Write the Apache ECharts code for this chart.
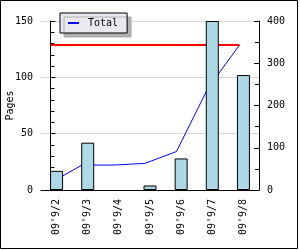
<!DOCTYPE html>
<html>
<head>
<meta charset="utf-8">
<script src="https://cdn.jsdelivr.net/npm/echarts@6/dist/echarts.min.js"></script>
<style>
  html, body { margin: 0; padding: 0; background: #fff; }
  #chart { width: 300px; height: 250px; }
</style>
</head>
<body>
<div id="chart"></div>
<script>
// 日付ごとのページ数
const categories = ["09'9/2", "09'9/3", "09'9/4", "09'9/5", "09'9/6", "09'9/7", "09'9/8"];
const pages = [17, 42, 0, 4, 28, 150, 102];
// 累計 (右軸)
const total = [17, 59, 59, 63, 91, 241, 343];
// 赤い線 (右軸)
const target = [343, 343, 343, 343, 343, 343, 343];
const leftTicks = [0, 50, 100, 150];
const rightTicks = [0, 100, 200, 300, 400];

const font = 'DejaVu Sans Mono';

let myChart = echarts.init(document.getElementById('chart'));

let option = {
    animation: false,
    backgroundColor: '#fff',
    textStyle: { fontFamily: font },
    graphic: [{
        type: 'rect',
        shape: { x: 0.5, y: 0.5, width: 297, height: 248 },
        style: { fill: 'none', stroke: '#000', lineWidth: 1 },
        z: 100
    }],
    legend: {
        data: ['Total'],
        left: 60,
        top: 13,
        padding: [5, 9, 5, 8],
        backgroundColor: '#ebe8ef',
        borderColor: '#000',
        borderWidth: 1,
        shadowColor: '#b0b0b0',
        shadowOffsetX: 4,
        shadowOffsetY: 4,
        shadowBlur: 0,
        icon: 'rect',
        itemWidth: 11,
        itemHeight: 2,
        textStyle: { fontFamily: font, fontSize: 10, color: '#000', padding: [0, 0, 0, 4] }
    },
    grid: { left: 41, right: 41, top: 21, bottom: 60, outerBoundsMode: 'none', containLabel: false },
    xAxis: [{
        type: 'category',
        data: categories,
        boundaryGap: true,
        axisLine: { lineStyle: { color: '#000', width: 1 } },
        axisTick: { inside: true, length: 5, lineStyle: { color: '#000' } },
        axisLabel: { rotate: 90, margin: 9, fontFamily: font, fontSize: 10, color: '#000' }
    }, {
        // 線グラフ用の非表示の軸
        type: 'value',
        show: false,
        min: -0.3,
        max: 6.62
    }],
    yAxis: [{
        type: 'value',
        name: 'Pages',
        nameLocation: 'middle',
        nameGap: 26,
        nameMoveOverlap: false,
        nameTextStyle: { fontFamily: font, fontSize: 10, color: '#000' },
        min: leftTicks[0],
        max: leftTicks[leftTicks.length - 1],
        interval: 50,
        axisLine: { show: true, lineStyle: { color: '#000' } },
        axisTick: { show: true, inside: true, length: 5, lineStyle: { color: '#000' } },
        minorTick: { show: true, splitNumber: 5, length: 4, lineStyle: { color: '#000' } },
        splitLine: { show: true, lineStyle: { color: '#d8d8d8' } },
        axisLabel: { margin: 8, fontFamily: font, fontSize: 10, color: '#000' }
    }, {
        type: 'value',
        min: rightTicks[0],
        max: rightTicks[rightTicks.length - 1],
        interval: 100,
        position: 'right',
        axisLine: { show: true, lineStyle: { color: '#000' } },
        axisTick: { show: true, inside: true, length: 5, lineStyle: { color: '#000' } },
        minorTick: { show: true, splitNumber: 2, length: 4, lineStyle: { color: '#000' } },
        splitLine: { show: false },
        axisLabel: { margin: 8, fontFamily: font, fontSize: 10, color: '#000' }
    }],
    series: [{
        name: 'Total',
        type: 'line',
        xAxisIndex: 1,
        yAxisIndex: 1,
        data: total.map((v, i) => [i, v]),
        symbol: 'none',
        lineStyle: { color: '#0000ff', width: 1 },
        itemStyle: { color: '#0000ff' },
        z: 2
    }, {
        name: 'Target',
        type: 'line',
        xAxisIndex: 1,
        yAxisIndex: 1,
        data: target.map((v, i) => [i, v]),
        symbol: 'none',
        lineStyle: { color: '#ff0000', width: 2 },
        z: 2
    }, {
        name: 'Pages',
        type: 'bar',
        // 0 の日は棒を描かない
        data: pages.map(v => (v === 0 ? null : v)),
        barWidth: 13,
        itemStyle: {
            color: '#add8e6',
            borderColor: '#000',
            borderWidth: 1
        },
        z: 3
    }]
};

myChart.setOption(option);
</script>
</body>
</html>
